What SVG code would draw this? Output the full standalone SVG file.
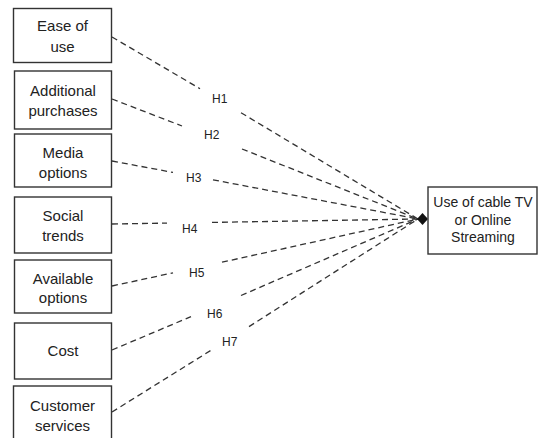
<svg xmlns="http://www.w3.org/2000/svg" width="542" height="438" viewBox="0 0 542 438">
<style>
.box{fill:#fff;stroke:#333;stroke-width:1.4}
.t{font-family:"Liberation Sans",Arial,sans-serif;font-size:15px;fill:#222;text-anchor:middle}
.tr{font-family:"Liberation Sans",Arial,sans-serif;font-size:14px;fill:#222;text-anchor:middle}
.h{font-family:"Liberation Sans",Arial,sans-serif;font-size:12px;fill:#222}
.c{stroke:#333;stroke-width:1.3;stroke-dasharray:6 4;fill:none}
</style>
<rect width="542" height="438" fill="#fff"/>
<g id="connectors">
<path class="c" d="M112,37 L200,88.7 M241,112.7 L418,219"/>
<path class="c" d="M112,99 L182,126 M242,149 L418,219"/>
<path class="c" d="M112,161 L173,172.4 M213,179.8 L418,219"/>
<path class="c" d="M112,224 L167,223.1 M212,222.4 L418,219"/>
<path class="c" d="M112,286 L173,272.8 M222,262.2 L418,219"/>
<path class="c" d="M112,350 L191,316.6 M241,295.5 L418,219"/>
<path class="c" d="M112,412 L211,350.3 M249,326.6 L418,219"/>
<polygon points="428,219 422.5,213 417,219 422.5,225" fill="#111"/>
<text class="h" x="212" y="103">H1</text>
<text class="h" x="204" y="139">H2</text>
<text class="h" x="186" y="182">H3</text>
<text class="h" x="182" y="233">H4</text>
<text class="h" x="189" y="277">H5</text>
<text class="h" x="207" y="318">H6</text>
<text class="h" x="222" y="346">H7</text>
</g>
<g id="n1"><rect class="box" x="13.5" y="8.5" width="98" height="54"/><text class="t" x="62.5" y="31">Ease of</text><text class="t" x="62.5" y="52">use</text></g>
<g id="n2"><rect class="box" x="14.5" y="71" width="97" height="58"/><text class="t" x="63" y="96">Additional</text><text class="t" x="63" y="116">purchases</text></g>
<g id="n3"><rect class="box" x="14.5" y="134" width="97" height="53"/><text class="t" x="63" y="158">Media</text><text class="t" x="63" y="178">options</text></g>
<g id="n4"><rect class="box" x="14.5" y="197" width="97" height="56"/><text class="t" x="63" y="221">Social</text><text class="t" x="63" y="241">trends</text></g>
<g id="n5"><rect class="box" x="14.5" y="260" width="97" height="53"/><text class="t" x="63" y="283.5">Available</text><text class="t" x="63" y="303">options</text></g>
<g id="n6"><rect class="box" x="14.5" y="323" width="97" height="56"/><text class="t" x="63" y="356">Cost</text></g>
<g id="n7"><rect class="box" x="13.5" y="386" width="98" height="60"/><text class="t" x="62.5" y="411">Customer</text><text class="t" x="62.5" y="431">services</text></g>
<g id="target"><rect class="box" x="428" y="187" width="109" height="67"/><text class="tr" x="483" y="207">Use of cable TV</text><text class="tr" x="483" y="224.5">or Online</text><text class="tr" x="483" y="242">Streaming</text></g>
</svg>
